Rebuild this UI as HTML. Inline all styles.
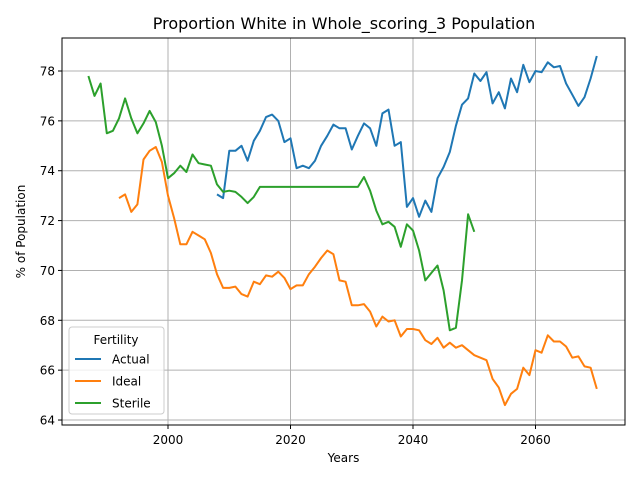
<!DOCTYPE html>
<html><head><meta charset="utf-8"><style>
body{margin:0;background:#fff;font-family:"Liberation Sans","DejaVu Sans",sans-serif}
svg text{font-family:"DejaVu Sans","Liberation Sans",sans-serif}
</style></head><body>
<svg id="chart" width="640" height="480" xmlns="http://www.w3.org/2000/svg">
<rect width="640" height="480" fill="#fff"/>
<text x="344" y="29" text-anchor="middle" font-size="16">Proportion White in Whole_scoring_3 Population</text>
<g id="grid"></g><g id="series"></g><g id="axes"></g>
</svg>
<script>
const xTicks=[2000,2020,2040,2060];
const yTicks=[64,66,68,70,72,74,76,78];
const actualStart=2008;
const actualVals=[73.05,72.9,74.8,74.8,75.0,74.4,75.2,75.6,76.15,76.25,76.0,75.15,75.3,74.1,74.2,74.1,74.4,75.0,75.4,75.85,75.7,75.7,74.85,75.4,75.9,75.7,75.0,76.3,76.45,75.0,75.15,72.55,72.9,72.15,72.8,72.35,73.7,74.15,74.75,75.8,76.65,76.9,77.9,77.6,77.95,76.7,77.15,76.5,77.7,77.15,78.25,77.55,78.0,77.95,78.35,78.15,78.2,77.5,77.05,76.6,76.95,77.7,78.6];
const idealStart=1992;
const idealVals=[72.9,73.05,72.35,72.65,74.45,74.8,74.95,74.35,73.0,72.1,71.05,71.05,71.55,71.4,71.25,70.7,69.85,69.3,69.3,69.35,69.05,68.95,69.55,69.45,69.8,69.75,69.95,69.7,69.25,69.4,69.4,69.85,70.15,70.5,70.8,70.65,69.6,69.55,68.6,68.6,68.65,68.35,67.75,68.15,67.95,68.0,67.35,67.65,67.65,67.6,67.2,67.05,67.3,66.9,67.1,66.9,67.0,66.8,66.6,66.5,66.4,65.65,65.3,64.6,65.05,65.25,66.1,65.8,66.8,66.7,67.4,67.15,67.15,66.95,66.5,66.55,66.15,66.1,65.25];
const sterileStart=1987;
const sterileVals=[77.8,77.0,77.5,75.5,75.6,76.1,76.9,76.1,75.5,75.9,76.4,75.95,75.0,73.7,73.9,74.2,73.95,74.65,74.3,74.25,74.2,73.45,73.15,73.2,73.15,72.95,72.7,72.95,73.35,73.35,73.35,73.35,73.35,73.35,73.35,73.35,73.35,73.35,73.35,73.35,73.35,73.35,73.35,73.35,73.35,73.75,73.2,72.4,71.85,71.95,71.75,70.95,71.85,71.6,70.8,69.6,69.9,70.2,69.2,67.6,67.7,69.6,72.25,71.55];
const seriesNames=["Actual","Ideal","Sterile"];
const L=62,R=625,T=38,B=425;
const X=v=>168+(v-2000)*6.125;
const Y=v=>71-(v-78)*24.93;
const NS="http://www.w3.org/2000/svg";
function mk(tag,attrs,parent){const e=document.createElementNS(NS,tag);for(const k in attrs)e.setAttribute(k,attrs[k]);parent.appendChild(e);return e;}
const grid=document.getElementById('grid'),ser=document.getElementById('series'),ax=document.getElementById('axes');
xTicks.forEach(t=>{
 const g=mk('line',{x1:X(t),x2:X(t),y1:T,y2:B,stroke:'#b0b0b0','stroke-width':1},grid);
 
 
 mk('line',{x1:X(t),x2:X(t),y1:B,y2:B+4,stroke:'#000'},ax);
 const tx=mk('text',{x:X(t),y:B+19,'text-anchor':'middle','font-size':12},ax);tx.textContent=t;
 
 
});
yTicks.forEach(t=>{
 const g=mk('line',{x1:L,x2:R,y1:Y(t),y2:Y(t),stroke:'#b0b0b0','stroke-width':1},grid);
 
 
 mk('line',{x1:L-4,x2:L,y1:Y(t),y2:Y(t),stroke:'#000'},ax);
 const tx=mk('text',{x:L-7,y:Y(t)+4.5,'text-anchor':'end','font-size':12},ax);tx.textContent=t;
 
 
});
const colors=['#1f77b4','#ff7f0e','#2ca02c'];
[[actualStart,actualVals],[idealStart,idealVals],[sterileStart,sterileVals]].forEach((s,i)=>{
 const pts=s[1].map((v,j)=>X(s[0]+j).toFixed(1)+','+Y(v).toFixed(1)).join(' ');
 const p=mk('polyline',{points:pts,fill:'none',stroke:colors[i],'stroke-width':2,'stroke-linejoin':'round'},ser);
 
 
});
const fr=mk('rect',{x:L,y:T,width:R-L,height:B-T,fill:'none',stroke:'#000','stroke-width':1},ax);


const xl=mk('text',{x:(L+R)/2,y:462,'text-anchor':'middle','font-size':12},ax);xl.textContent='Years';


const yl=mk('text',{x:25,y:(T+B)/2,'text-anchor':'middle','font-size':12,transform:'rotate(-90 25 '+((T+B)/2)+')'},ax);yl.textContent='% of Population';


const lg=mk('g',{},ax);


mk('rect',{x:69,y:327,width:95,height:87,rx:3,fill:'#fff','fill-opacity':0.8,stroke:'#ccc'},lg);
const lt=mk('text',{x:116,y:344,'text-anchor':'middle','font-size':12},lg);lt.textContent='Fertility';


seriesNames.forEach((n,i)=>{
 const y=359+i*22;
 const e=mk('g',{},lg);
 
 
 mk('line',{x1:75,x2:101,y1:y,y2:y,stroke:colors[i],'stroke-width':2},e);
 const t=mk('text',{x:112,y:y+4.5,'font-size':12},e);t.textContent=n;
});
</script>
</body></html>
